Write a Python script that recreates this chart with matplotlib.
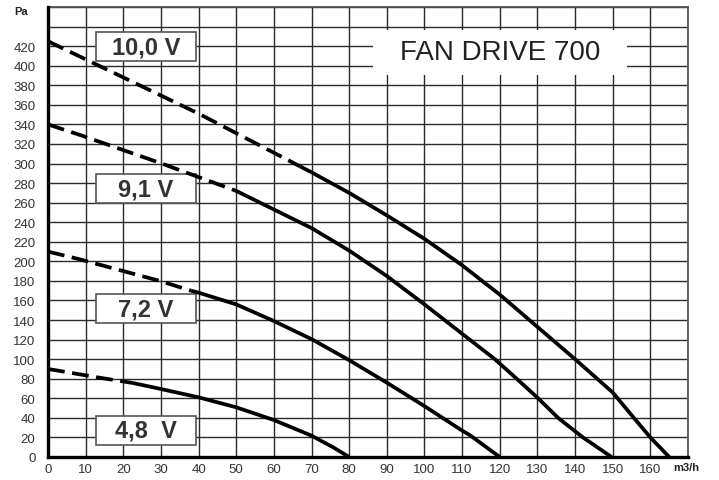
import matplotlib
matplotlib.use("Agg")
import matplotlib.pyplot as plt
from matplotlib.patches import Rectangle

plt.rcParams['font.family'] = ['Liberation Sans', 'DejaVu Sans']

# Fan curves: airflow (m3/h) vs static pressure (Pa) at each control voltage.
# Dashed part = extrapolated region, solid part = working range.
v100_dash_q = [0, 20, 40, 67]
v100_dash_p = [425, 388, 351, 297]
v100_q = [67, 70, 80, 90, 100, 110, 120, 130, 140, 150, 155.4, 160, 165]
v100_p = [297, 291, 270, 247, 223, 196, 166, 133, 100, 66, 41, 20, 0]

v91_dash_q = [0, 9.4, 30.2, 50]
v91_dash_p = [340, 328, 300, 272]
v91_q = [50, 60, 70, 80, 90, 100, 112, 118.7, 124.5, 130.2, 135.5, 142.1, 149.7]
v91_p = [272, 253, 234, 211, 185, 156, 120, 100, 80, 60, 40, 20, 0]

v72_dash_q = [0, 8.5, 29.7, 38]
v72_dash_p = [210, 202, 180, 170]
v72_q = [38, 40, 50, 60, 70, 80, 90, 100, 110, 112, 120]
v72_p = [170, 168, 156, 139, 120.5, 99, 76, 52, 27, 22.5, 0]

v48_dash_q = [0, 13.8, 22.6]
v48_dash_p = [90, 81, 75.6]
v48_q = [22.6, 30, 40, 50, 60, 70, 75.7, 80]
v48_p = [75.6, 69.5, 61, 50.8, 37.8, 21.8, 10, 0]

voltage_labels = ["10,0 V", "9,1 V", "7,2 V", "4,8  V"]
# label box extents in data units (bottom, top)
label_rows = [(404.5, 434), (259.5, 289), (137, 166.5), (12.3, 42)]

x_ticks = list(range(0, 171, 10))
y_ticks = list(range(0, 461, 20))
x_labels = [str(v) if v <= 160 else "" for v in x_ticks]
y_labels = [str(v) if v <= 420 else "" for v in y_ticks]

fig = plt.figure(figsize=(7.19, 4.81), dpi=100)
ax = fig.add_axes([48 / 719, 23 / 481, 640 / 719, 450 / 481])
ax.set_xlim(0, 170)
ax.set_ylim(0, 460)

ax.set_xticks(x_ticks)
ax.set_xticklabels(x_labels)
ax.set_yticks(y_ticks)
ax.set_yticklabels(y_labels)
ax.tick_params(axis='both', length=0, labelsize=9.5, labelcolor='#333333')
ax.tick_params(axis='y', pad=9)
ax.tick_params(axis='x', pad=4)
ax.grid(True, color='#2a2a2a', linewidth=1.0, zorder=0)
ax.set_axisbelow(True)

for side in ('left', 'bottom'):
    ax.spines[side].set_linewidth(2.4)
    ax.spines[side].set_color('black')
    ax.spines[side].set_zorder(6)
for side in ('top', 'right'):
    ax.spines[side].set_linewidth(1.3)
    ax.spines[side].set_color('#555555')

# white panel behind the product name
ax.add_patch(Rectangle((86.3, 391), 67.4, 46, facecolor='white',
                       edgecolor='none', zorder=2))
ax.text(120, 414, "FAN DRIVE 700", fontsize=20, color='#222222',
        ha='center', va='center', zorder=3)

# voltage label boxes
for text, (y0, y1) in zip(voltage_labels, label_rows):
    ax.add_patch(Rectangle((12.7, y0), 26.5, y1 - y0, facecolor='white',
                           edgecolor='#555555', linewidth=1.2, zorder=3))
    ax.text(25.95, (y0 + y1) / 2, text, fontsize=17, fontweight='bold',
            color='#333333', ha='center', va='center', zorder=4)

dash_style = (0, (4.5, 2.0))
for dq, dp, q, p in [(v100_dash_q, v100_dash_p, v100_q, v100_p),
                     (v91_dash_q, v91_dash_p, v91_q, v91_p),
                     (v72_dash_q, v72_dash_p, v72_q, v72_p),
                     (v48_dash_q, v48_dash_p, v48_q, v48_p)]:
    ax.plot(dq, dp, color='black', linewidth=2.7, linestyle=dash_style,
            zorder=5, clip_on=False, dash_capstyle='butt')
    ax.plot(q, p, color='black', linewidth=2.7, zorder=5,
            solid_capstyle='butt', solid_joinstyle='round')

fig.text(14 / 719, 1 - 12 / 481, "Pa", fontsize=8, fontweight='bold',
         color='#222222', ha='left', va='center')
fig.text(673 / 719, 1 - 468 / 481, "m3/h", fontsize=8, fontweight='bold',
         color='#222222', ha='left', va='center')

fig.savefig("out.png", dpi=100, facecolor='white')
